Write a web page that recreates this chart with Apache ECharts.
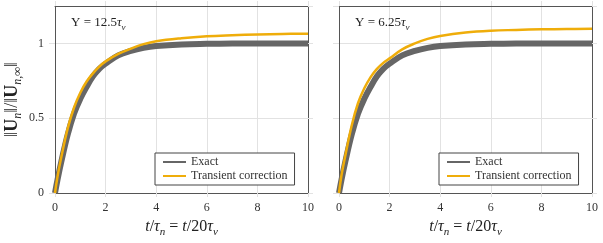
<!DOCTYPE html>
<html>
<head>
<meta charset="utf-8">
<script src="https://cdn.jsdelivr.net/npm/echarts@6/dist/echarts.min.js"></script>
<style>html,body{margin:0;padding:0;background:#fff}#c{width:603px;height:243px}</style>
</head>
<body>
<div id="c"></div>
<script>
// ---- data ----
const tValues = [0, 0.1, 0.25, 0.5, 0.75, 1, 1.25, 1.5, 1.75, 2, 2.5, 3, 3.5, 4, 5, 6, 7, 8, 9, 10];
const exactValues = [0, 0.09, 0.21, 0.39, 0.53, 0.63, 0.71, 0.78, 0.83, 0.865, 0.92, 0.95, 0.97, 0.982, 0.993, 0.997, 0.999, 1.0, 1.0, 1.0];
const transientLeft = [0, 0.11, 0.24, 0.43, 0.57, 0.67, 0.745, 0.80, 0.845, 0.88, 0.93, 0.965, 0.995, 1.015, 1.035, 1.048, 1.055, 1.06, 1.063, 1.065];
const transientRight = [0, 0.12, 0.25, 0.45, 0.60, 0.70, 0.775, 0.83, 0.87, 0.90, 0.96, 1.0, 1.03, 1.05, 1.073, 1.085, 1.09, 1.094, 1.096, 1.098];
const xTicks = [0, 2, 4, 6, 8, 10];
const yTicks = [0, 0.5, 1];
const seriesNames = ['Exact', 'Transient correction'];
const panelLabels = ['12.5', '6.25'];

const pairs = (xs, ys) => xs.map((x, i) => [x, ys[i]]);

const FONT = 'Liberation Serif';
const GRIDC = '#e2e2e2';
const BOX = '#555555';
const GRAY = '#666666';
const ORANGE = '#EFAD0A';

const grids = [
  {left: 55, right: 295, top: 6, bottom: 47},
  {left: 339, right: 11, top: 6, bottom: 47}
];

const xAxes = [], yAxes = [], series = [], titles = [], legends = [];
function mkRich(fs, ss) {
  return {
    r: {fontFamily: FONT, fontSize: fs, fontWeight: 'normal', color: '#222'},
    i: {fontFamily: FONT, fontSize: fs, fontStyle: 'italic', fontWeight: 'normal', color: '#222'},
    b: {fontFamily: FONT, fontSize: fs, fontWeight: 'bold', color: '#222'},
    s: {fontFamily: FONT, fontSize: ss, fontStyle: 'italic', fontWeight: 'normal', color: '#222', verticalAlign: 'bottom', padding: [0, 0, -3, 0]}
  };
}
const richX = mkRich(16, 11);
const richY = mkRich(18, 12);
const richSmall = mkRich(13, 9);

grids.forEach((g, k) => {
  xAxes.push({
    gridIndex: k, type: 'value', min: xTicks[0], max: xTicks[xTicks.length - 1], interval: 2,
    position: 'bottom',
    axisLine: {show: true, onZero: false, lineStyle: {color: BOX, width: 1}},
    axisTick: {show: true, length: 4, lineStyle: {color: GRIDC}},
    axisLabel: {show: true, margin: 9, fontFamily: FONT, fontSize: 12, color: '#333'},
    splitLine: {show: true, showMinLine: false, showMaxLine: false, lineStyle: {color: GRIDC, width: 1}},
    name: '{i|t}{r|/}{i|τ}{s|n}{r| = }{i|t}{r|/20}{i|τ}{s|ν}',
    nameLocation: 'middle', nameGap: 26,
    nameTextStyle: {rich: richX}
  });
  xAxes.push({
    gridIndex: k, type: 'value', min: 0, max: 10, interval: 2, position: 'top',
    axisLine: {show: true, onZero: false, lineStyle: {color: BOX, width: 1}},
    axisTick: {show: true, length: 5, lineStyle: {color: GRIDC}},
    axisLabel: {show: false}, splitLine: {show: false}
  });
  yAxes.push({
    gridIndex: k, type: 'value', min: 0, max: 1.25, interval: 0.5, position: 'left',
    axisLine: {show: true, onZero: false, lineStyle: {color: BOX, width: 1}},
    axisTick: {show: true, length: 6, lineStyle: {color: GRIDC}},
    axisLabel: {show: k === 0, showMaxLabel: false, margin: 11, fontFamily: FONT, fontSize: 12, color: '#333'},
    splitLine: {show: true, showMinLine: false, showMaxLine: false, lineStyle: {color: GRIDC, width: 1}},
    name: k === 0 ? '{r|‖}{b|U}{s|n}{r|‖/‖}{b|U}{s|n,∞}{r|‖}' : '',
    nameLocation: 'middle', nameGap: 34, nameRotate: 90,
    nameTextStyle: {rich: richY}
  });
  yAxes.push({
    gridIndex: k, type: 'value', min: 0, max: 1.25, interval: 0.5, position: 'right',
    axisLine: {show: true, onZero: false, lineStyle: {color: BOX, width: 1}},
    axisTick: {show: true, length: 5, lineStyle: {color: GRIDC}},
    axisLabel: {show: false}, splitLine: {show: false}
  });

  const trans = k === 0 ? transientLeft : transientRight;
  series.push({
    name: seriesNames[0], type: 'line', xAxisIndex: 2 * k, yAxisIndex: 2 * k,
    data: pairs(tValues, exactValues), smooth: 0.4, symbol: 'none', z: 2,
    lineStyle: {color: GRAY, width: 6}, itemStyle: {color: GRAY}
  });
  series.push({
    name: seriesNames[1], type: 'line', xAxisIndex: 2 * k, yAxisIndex: 2 * k,
    data: pairs(tValues, trans), smooth: 0.4, symbol: 'none', z: 3,
    lineStyle: {color: ORANGE, width: 2.5}, itemStyle: {color: ORANGE}
  });

  titles.push({
    text: '{r|Υ = ' + panelLabels[k] + '}{i|τ}{s|ν}',
    left: g.left + 11, top: 11,
    textStyle: {fontWeight: 'normal', rich: richSmall}
  });

  legends.push({
    data: seriesNames, orient: 'vertical',
    left: g.left + 100, top: 153,
    itemWidth: 23, itemHeight: 12, itemGap: 2,
    padding: [3, 7, 3, 7],
    borderColor: '#444', borderWidth: 1, backgroundColor: '#fff',
    itemStyle: {opacity: 0},
    textStyle: {fontFamily: FONT, fontSize: 12, color: '#333'},
    selectedMode: false
  });
});

const chart = echarts.init(document.getElementById('c'), null, {renderer: 'canvas'});
chart.setOption({
  animation: false,
  backgroundColor: '#fff',
  title: titles,
  legend: legends,
  grid: grids,
  xAxis: xAxes,
  yAxis: yAxes,
  series: series
});
</script>
</body>
</html>
